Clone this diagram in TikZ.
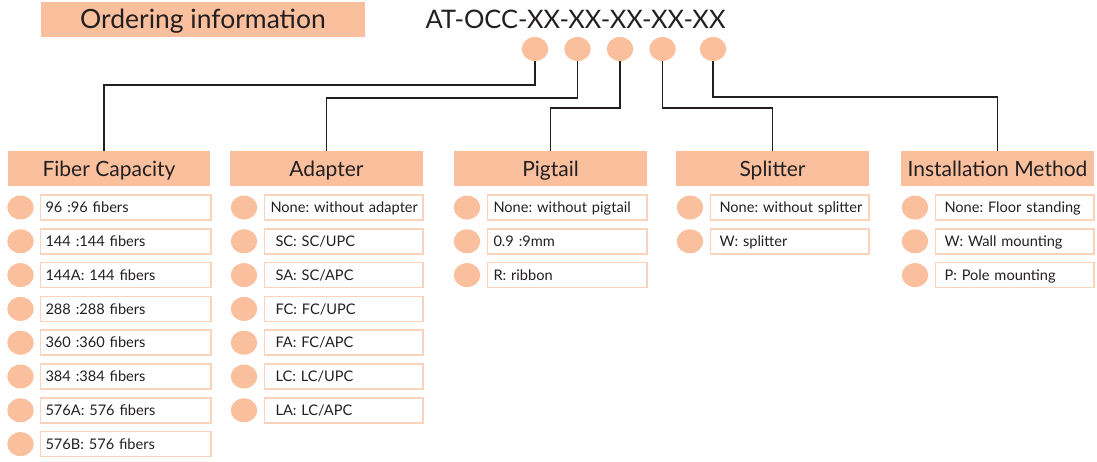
\documentclass[tikz,border=0pt]{standalone}
\usepackage{fontspec}
\setmainfont{Lato}
\frenchspacing
\usetikzlibrary{shapes.geometric}

\definecolor{peach}{HTML}{FAC09E}
\definecolor{peachline}{HTML}{FAD3BA}
\definecolor{ink}{HTML}{231F20}

\tikzset{
  headbox/.style={fill=peach, minimum height=35pt, inner sep=0pt, text=ink,
    font=\fontsize{21}{24}\selectfont, text height=15pt, text depth=0pt},
  optdot/.style={ellipse, fill=peach, minimum width=26.5pt, minimum height=24pt, inner sep=0pt},
  itembox/.style={draw=peachline, line width=1.5pt, minimum height=25pt, inner ysep=0pt,
    anchor=west, align=left, text=ink, font=\fontsize{14.6}{17}\selectfont,
    text height=10.5pt, text depth=0pt},
  link/.style={draw=ink, line width=1.8pt},
}

\begin{document}
\begin{tikzpicture}[x=1pt, y=-1pt]
  \useasboundingbox (0,0) rectangle (1097,461);

  % title and part number
  \node[headbox, minimum width=324pt, text height=18.5pt, font=\fontsize{26.5}{30}\selectfont]
    (title) at (203,19.5) {Ordering information};
  \node[anchor=base, text=ink, font=\fontsize{25.5}{30}\selectfont] (code) at (575.5,28.5) {AT-OCC-XX-XX-XX-XX-XX};

  % one dot per code field
  \node[optdot] (code-fc) at (535,49) {};
  \node[optdot] (code-ad) at (577.5,49) {};
  \node[optdot] (code-pt) at (620,49) {};
  \node[optdot] (code-sp) at (662.5,49) {};
  \node[optdot] (code-im) at (713,49) {};

  % column headers
  \node[headbox, minimum width=202pt] (fc) at (109,168.5) {Fiber Capacity};
  \node[headbox, minimum width=193pt] (ad) at (326.5,168.5) {Adapter};
  \node[headbox, minimum width=193pt] (pt) at (550.5,168.5) {Pigtail};
  \node[headbox, minimum width=193pt] (sp) at (772.5,168.5) {Splitter};
  \node[headbox, minimum width=193pt] (im) at (997.5,168.5) {Installation Method};

  % field -> header
  \draw[link] (code-fc.south) -- ++(0,24) -| ([xshift=-5pt]fc.north);
  \draw[link] (code-ad.south) -- ++(0,37) -| (ad.north);
  \draw[link] (code-pt.south) -- ++(0,47) -| (pt.north);
  \draw[link] (code-sp.south) -- ++(0,47) -| (sp.north);
  \draw[link] (code-im.south) -- ++(0,36) -| (im.north);

  % Fiber capacity
  \foreach \t [count=\i] in {96 :96 fibers, 144 :144 fibers, 144A: 144 fibers, 288 :288 fibers,
      360 :360 fibers, 384 :384 fibers, 576A: 576 fibers, 576B: 576 fibers} {
    \node[optdot] (fc-dot-\i) at (20.5,{207.5+33.8*(\i-1)}) {};
    \node[itembox, inner xsep=5pt, text width=160.5pt] (fc-\i) at (39.75,{207.5+33.8*(\i-1)}) {\mbox{\t}};
  }

  % Adapter
  \foreach \t [count=\i] in {None: without adapter, \hspace{5pt}SC: SC/UPC, \hspace{5pt}SA: SC/APC,
      \hspace{5pt}FC: FC/UPC, \hspace{5pt}FA: FC/APC, \hspace{5pt}LC: LC/UPC, \hspace{5pt}LA: LC/APC} {
    \node[optdot] (ad-dot-\i) at (244,{207.5+33.8*(\i-1)}) {};
    \node[itembox, inner xsep=6pt, text width=146.5pt] (ad-\i) at (263.75,{207.5+33.8*(\i-1)}) {\mbox{\t}};
  }

  % Pigtail
  \foreach \t [count=\i] in {None: without pigtail, 0.9 :9mm, R: ribbon} {
    \node[optdot] (pt-dot-\i) at (467,{207.5+33.8*(\i-1)}) {};
    \node[itembox, inner xsep=6pt, text width=147.5pt] (pt-\i) at (486.75,{207.5+33.8*(\i-1)}) {\mbox{\t}};
  }

  % Splitter
  \foreach \t [count=\i] in {None: without splitter, W: splitter} {
    \node[optdot] (sp-dot-\i) at (690,{207.5+33.8*(\i-1)}) {};
    \node[itembox, inner xsep=9pt, text width=140.5pt] (sp-\i) at (709.75,{207.5+33.8*(\i-1)}) {\mbox{\t}};
  }

  % Installation method
  \foreach \t [count=\i] in {None: Floor standing, W: Wall mounting, P: Pole mounting} {
    \node[optdot] (im-dot-\i) at (915,{207.5+33.8*(\i-1)}) {};
    \node[itembox, inner xsep=9pt, text width=140.5pt] (im-\i) at (934.75,{207.5+33.8*(\i-1)}) {\mbox{\t}};
  }
\end{tikzpicture}
\end{document}
